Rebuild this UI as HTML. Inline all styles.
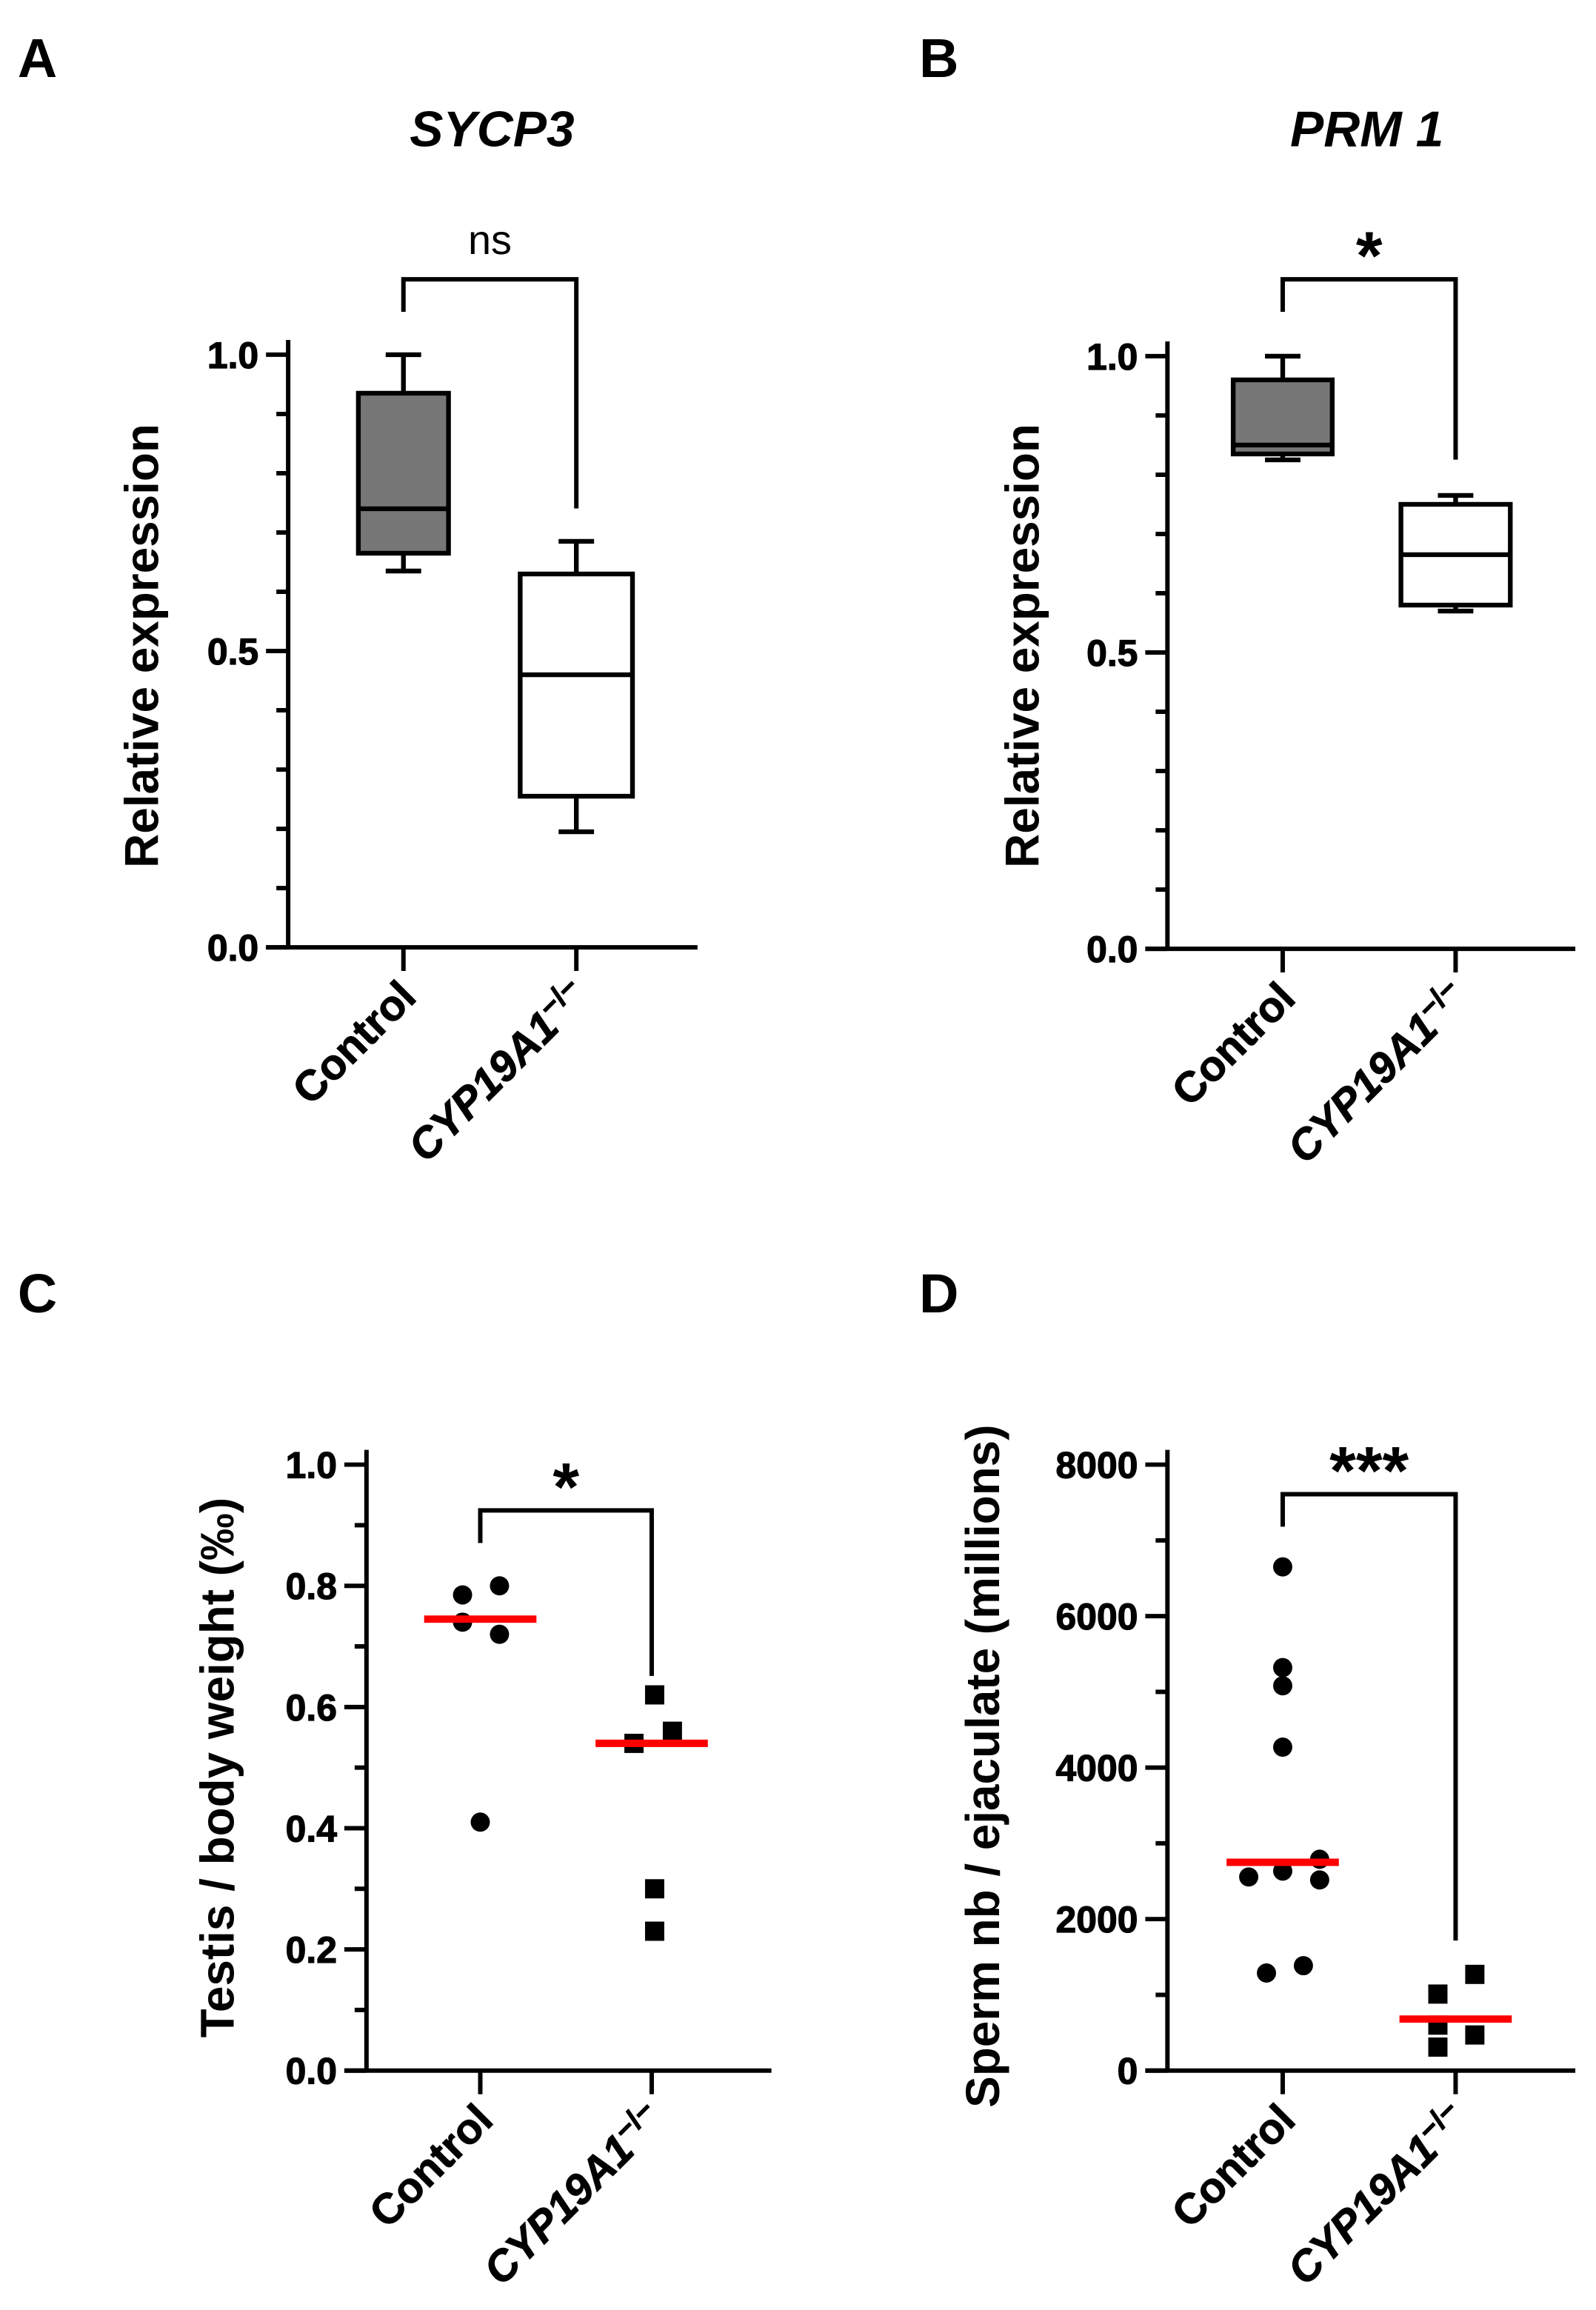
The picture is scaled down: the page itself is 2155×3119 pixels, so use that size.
<!DOCTYPE html>
<html><head><meta charset="utf-8"><style>
html,body{margin:0;padding:0;background:#fff}
svg{display:block}
text{font-family:"Liberation Sans",Arial,sans-serif;fill:#000}
</style></head><body>
<svg id="fig" width="2155" height="3119" viewBox="0 0 1080 1563" preserveAspectRatio="none" xmlns="http://www.w3.org/2000/svg"></svg>
<script>
// ---- data ----
const categories = ["Control", "CYP19A1"];
// Panel A (SYCP3) box stats: [min, q1, median, q3, max]
const boxA = [[0.635, 0.665, 0.74, 0.935, 1.0], [0.195, 0.255, 0.46, 0.63, 0.685]];
// Panel B (PRM 1)
const boxB = [[0.825, 0.835, 0.85, 0.96, 1.0], [0.57, 0.58, 0.665, 0.75, 0.765]];
// Panel C testis/body weight
const ctrlC = [0.785, 0.80, 0.74, 0.72, 0.41];
const cypC = [0.62, 0.54, 0.56, 0.30, 0.23];
const medC = [0.745, 0.54];
// Panel D sperm count
const ctrlD = [6650, 5320, 5080, 4270, 2556, 2634, 2790, 2517, 1288, 1385];
const cypD = [1010, 1270, 600, 470, 310];
const medD = [2750, 680];
const ticksAB = [0, 0.5, 1.0];
const ticksC = [0, 0.2, 0.4, 0.6, 0.8, 1.0];
const ticksD = [0, 2000, 4000, 6000, 8000];

const NS = "http://www.w3.org/2000/svg";
const svg = document.getElementById("fig");
function el(tag, attrs, parent, txt) {
  const e = document.createElementNS(NS, tag);
  for (const k in attrs) e.setAttribute(k, attrs[k]);
  if (txt !== undefined) e.textContent = txt;
  (parent || svg).appendChild(e);
  return e;
}
function panel(o) {
  const g = el("g", {});
  
  
  const y = v => o.y0 - (v - o.vmin) / (o.vmax - o.vmin) * (o.y0 - o.y1);
  const lbl = el("text", {x: o.lx, y: o.ly, "font-size": 37, "font-weight": "bold"}, g, o.letter);
  
  
  if (o.title) {
    const t = el("text", {x: o.tx, y: 99, "font-size": 34, "font-weight": "bold", "font-style": "italic", "text-anchor": "middle"}, g, o.title);
    
    
  }
  const ax = el("g", {stroke: "#000", "stroke-width": 3, fill: "none"}, g);
  
  
  el("line", {x1: o.ax, y1: y(o.vmax) - 10, x2: o.ax, y2: o.y0}, ax);
  el("line", {x1: o.ax - 15, y1: o.y0, x2: o.xend, y2: o.y0}, ax);
  for (let i = 0; i <= o.nminor; i++) {
    const v = o.vmin + (o.vmax - o.vmin) * i / o.nminor;
    el("line", {x1: o.ax - (o.ticks.some(t => Math.abs(t - v) < 1e-9) ? 15 : 8), y1: y(v), x2: o.ax, y2: y(v)}, ax);
  }
  o.ticks.forEach(t => {
    const tl = el("text", {x: o.ax - 20, y: y(t) + 9, "font-size": 25, "font-weight": "bold", "text-anchor": "end", stroke: "#000", "stroke-width": 0.6}, g, o.fmt(t));
    
    
  });
  const yt = el("text", {transform: `translate(${o.ytx},${o.yty}) rotate(-90)`, "font-size": 32, "font-weight": "bold", "text-anchor": "middle"}, g, o.ytitle);
  
  
  o.cx.forEach((cx, i) => {
    el("line", {x1: cx, y1: o.y0, x2: cx, y2: o.y0 + 16}, ax);
    const t = el("text", {transform: `translate(${cx + 10},${o.y0 + 35}) rotate(-45)`, "font-size": 29, "font-weight": "bold", "text-anchor": "end", stroke: "#000", "stroke-width": 0.5}, g);
    
    
    if (i === 0) t.textContent = categories[0];
    else {
      el("tspan", {"font-style": "italic"}, t, categories[1]);
      el("tspan", {dy: -10, "font-size": 20}, t, "\u2212/\u2212");
    }
  });
  const br = el("path", {d: `M${o.cx[0]},${o.brL} V${o.brY} H${o.cx[1]} V${o.brR}`, stroke: "#000", "stroke-width": 3, fill: "none"}, g);
  
  
  const st = el("text", {x: (o.cx[0] + o.cx[1]) / 2, y: o.brY - o.sigOff, "font-size": o.sigSize, "font-weight": o.sigBold ? "bold" : "normal", "text-anchor": "middle"}, g, o.sig);
  
  
  return {g, y};
}
function boxes(p, o, data) {
  data.forEach((b, i) => {
    const cx = o.cx[i], hw = o.bw[i] / 2;
    const bg = el("g", {stroke: "#000", "stroke-width": 3.2}, p.g);
    
    
    el("line", {x1: cx, y1: p.y(b[0]), x2: cx, y2: p.y(b[4])}, bg);
    el("line", {x1: cx - 12, y1: p.y(b[0]), x2: cx + 12, y2: p.y(b[0])}, bg);
    el("line", {x1: cx - 12, y1: p.y(b[4]), x2: cx + 12, y2: p.y(b[4])}, bg);
    el("rect", {x: cx - hw, y: p.y(b[3]), width: 2 * hw, height: p.y(b[1]) - p.y(b[3]), fill: i ? "#fff" : "#777"}, bg);
    el("line", {x1: cx - hw, y1: p.y(b[2]), x2: cx + hw, y2: p.y(b[2])}, bg);
  });
}
function dots(p, o, ctrl, cyp, med, jc, jk) {
  ctrl.forEach((v, i) => {
    const c = el("circle", {cx: o.cx[0] + jc[i], cy: p.y(v), r: 6.5, fill: "#000"}, p.g);
    
    
  });
  cyp.forEach((v, i) => {
    const r = el("rect", {x: o.cx[1] + jk[i] - 6.5, y: p.y(v) - 6.5, width: 13, height: 13, fill: "#000"}, p.g);
    
    
  });
  med.forEach((v, i) => {
    const m = el("line", {x1: o.cx[i] - 38, y1: p.y(v), x2: o.cx[i] + 38, y2: p.y(v), stroke: "#f00", "stroke-width": 5}, p.g);
    
    
  });
}
const f1 = t => t.toFixed(1);
const oA = {name: "panel-a", letter: "A", lx: 12, ly: 52, title: "SYCP3", tx: 333, ax: 195, y0: 641, y1: 240, vmin: 0, vmax: 1, xend: 472, nminor: 10, ticks: ticksAB, fmt: f1, ytx: 107, yty: 437, ytitle: "Relative expression", cx: [273, 390], bw: [61, 76], brY: 189, brL: 211, brR: 344, sig: "ns", sigOff: 17, sigSize: 28, sigBold: false};
boxes(panel(oA), oA, boxA);
const oB = {name: "panel-b", letter: "B", lx: 622, ly: 52, title: "PRM 1", tx: 925, ax: 790, y0: 642, y1: 241, vmin: 0, vmax: 1, xend: 1066, nminor: 10, ticks: ticksAB, fmt: f1, ytx: 703, yty: 437, ytitle: "Relative expression", cx: [868, 985], bw: [67, 74], brY: 189, brL: 211, brR: 311, sig: "*", sigOff: 0, sigSize: 46, sigBold: true};
boxes(panel(oB), oB, boxB);
const oC = {name: "panel-c", letter: "C", lx: 12, ly: 888, ax: 248, y0: 1401, y1: 991, vmin: 0, vmax: 1, xend: 522, nminor: 10, ticks: ticksC, fmt: f1, ytx: 158, yty: 1196, ytitle: "Testis / body weight (\u2030)", cx: [325, 441], brY: 1022, brL: 1044, brR: 1134, sig: "*", sigOff: 0, sigSize: 46, sigBold: true};
dots(panel(oC), oC, ctrlC, cypC, medC, [-12, 13, -12, 13, 0], [2, -12, 14, 2, 2]);
const oD = {name: "panel-d", letter: "D", lx: 622, ly: 888, ax: 790, y0: 1401, y1: 991, vmin: 0, vmax: 8000, xend: 1066, nminor: 8, ticks: ticksD, fmt: t => String(t), ytx: 676, yty: 1195, ytitle: "Sperm nb / ejaculate (millions)", cx: [868, 985], brY: 1011, brL: 1033, brR: 1313, sig: "***", sigOff: 0, sigSize: 46, sigBold: true};
dots(panel(oD), oD, ctrlD, cypD, medD, [0, 0, 0, 0, -23, 0, 25, 25, -11, 14], [-12, 13, -12, 13, -12]);
</script>
</body></html>
